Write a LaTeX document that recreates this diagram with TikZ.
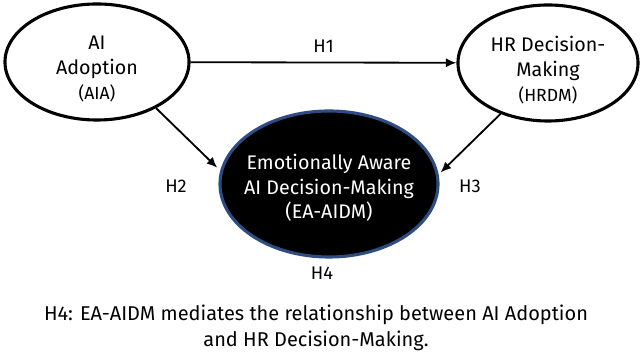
\documentclass[tikz,border=0pt]{standalone}
\usepackage{fontspec}
\setmainfont{Fira Sans}
\usetikzlibrary{shapes.geometric,arrows.meta}
\definecolor{rimblue}{HTML}{2E4C82}
\tikzset{
  construct/.style={ellipse,draw,line width=2.2pt,inner sep=0pt},
  label text/.style={align=center,font=\fontsize{14}{17.5}\selectfont},
  path arrow/.style={-{Latex[length=7.5pt,width=6.5pt]},line width=1.3pt},
  hyp/.style={font=\fontsize{13}{15}\selectfont}
}
\begin{document}
\begin{tikzpicture}[x=0.025cm,y=-0.025cm]
          \useasboundingbox (0,0) rectangle (640,352);
          \node [construct,minimum width=4.6cm,minimum height=2.9cm] (aia) at (97,62) {};
          \node [construct,minimum width=4.5cm,minimum height=2.9cm] (hrdm) at (548,63) {};
          \node [construct,draw=rimblue,fill=black,minimum width=5.45cm,minimum height=3.65cm] (aidm) at (329,184) {};
          \node [label text] (aiatxt) at (97,69) {AI\\Adoption\\{\fontsize{12.5}{12}\selectfont(AIA)}};
          \node [label text] (hrdmtxt) at (548,70) {HR Decision-\\Making\\{\fontsize{12.5}{12}\selectfont(HRDM)}};
          \node [label text,text=white] (aidmtxt) at (329,188) {Emotionally Aware\\AI Decision-Making\\(EA-AIDM)};
          \draw [path arrow] (aia) -- (hrdm) node [hyp,midway,above=3pt] (h1) {H1};
          \draw [path arrow,shorten >=3pt] (aia.-38) -- (aidm.173);
          \draw [path arrow,shorten >=2pt] (hrdm.-133) -- (aidm.5);
          \node [hyp] (h2) at (176,186) {H2};
          \node [hyp] (h3) at (470,186) {H3};
          \node [hyp] (h4) at (322,273) {H4};
          \node [font=\fontsize{14.2}{18.5}\selectfont,align=center] (note) at (316,328) {H4: EA-AIDM mediates the relationship between AI Adoption\\and HR Decision-Making.};
      \end{tikzpicture}
\end{document}
